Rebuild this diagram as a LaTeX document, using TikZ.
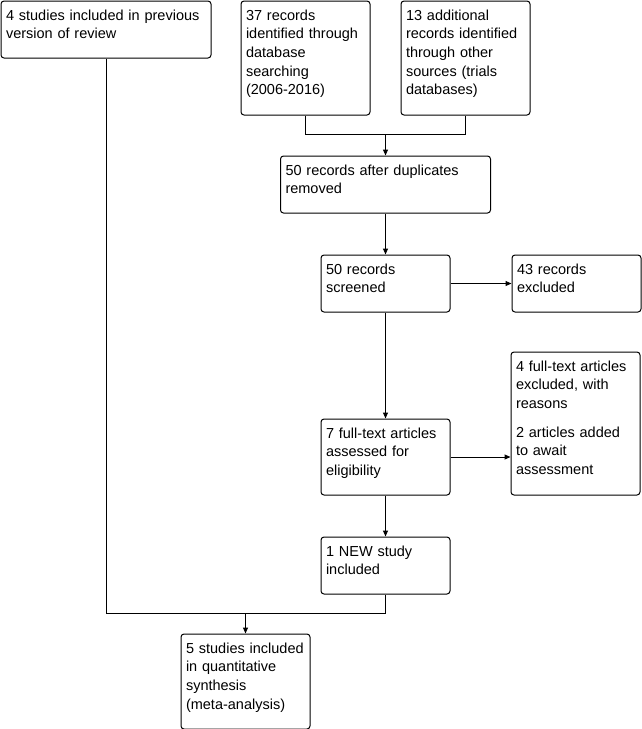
\documentclass[tikz,border=0pt]{standalone}
\usepackage{fontspec}
\setmainfont{Liberation Sans}
\usetikzlibrary{positioning,arrows.meta}
\tikzset{
    flow/.style={draw, line width=1pt, rounded corners=3pt, anchor=north west, align=left, inner xsep=5pt, inner ysep=0pt, text width=119pt, text height=19pt, font=\fontsize{14.5}{18.7}\selectfont},
    wide/.style={text width=200pt},
    arrow/.style={-{Triangle[length=6pt,width=5pt]}, line width=1pt},
    wire/.style={line width=1pt}
}

\begin{document}
\begin{tikzpicture}[x=1pt, y=-1pt]
\useasboundingbox (0,0) rectangle (642,729);
\node[flow, wide, text depth=38pt] (prev) at (0.5,0.5) {4 studies included in previous\\version of review};
\node[flow, text depth=95pt] (dbsearch) at (240.5,0.5) {37 records\\identified through\\database\\searching\\(2006-2016)};
\node[flow, text depth=95pt] (other) at (400.5,0.5) {13 additional\\records identified\\through other\\sources (trials\\databases)};
\node[flow, wide, text depth=38pt] (dedup) at (280,155.5) {50 records after duplicates\\removed};
\node[flow, text depth=38pt] (screen) at (320.5,254.5) {50 records\\screened};
\node[flow, text depth=38pt, right=61pt of screen] (excl) {43 records\\excluded};
\node[flow, text depth=124pt] (ftexcl) at (510.5,351.5) {4 full-text articles\\excluded, with\\reasons\\[10pt]2 articles added\\to await\\assessment};
\node[flow, text depth=57pt] (fulltext) at (320.5,418.5) {7 full-text articles\\assessed for\\eligibility};
\node[flow, text depth=38pt] (newstudy) at (320.5,536.5) {1 NEW study\\included};
\node[flow, text depth=76pt] (synth) at (180.5,633.5) {5 studies included\\in quantitative\\synthesis\\(meta-analysis)};
% merge of the two searches
\draw[wire] (dbsearch.south) -- ++(0,19) coordinate (merge) -| (other.south);
\draw[arrow] (merge -| dedup.south) -- (dedup.north);
\draw[arrow] (dedup) -- (screen);
\draw[arrow] (screen) -- (excl);
\draw[arrow] (screen) -- (fulltext);
\draw[arrow] (fulltext.east) -- (fulltext.east -| ftexcl.west);
\draw[arrow] (fulltext) -- (newstudy);
% previous review joins the new study
\draw[wire] (prev.south) -- ++(0,555) coordinate (join) -| (newstudy.south);
\draw[arrow] (join -| synth.north) -- (synth.north);
\end{tikzpicture}
\end{document}
